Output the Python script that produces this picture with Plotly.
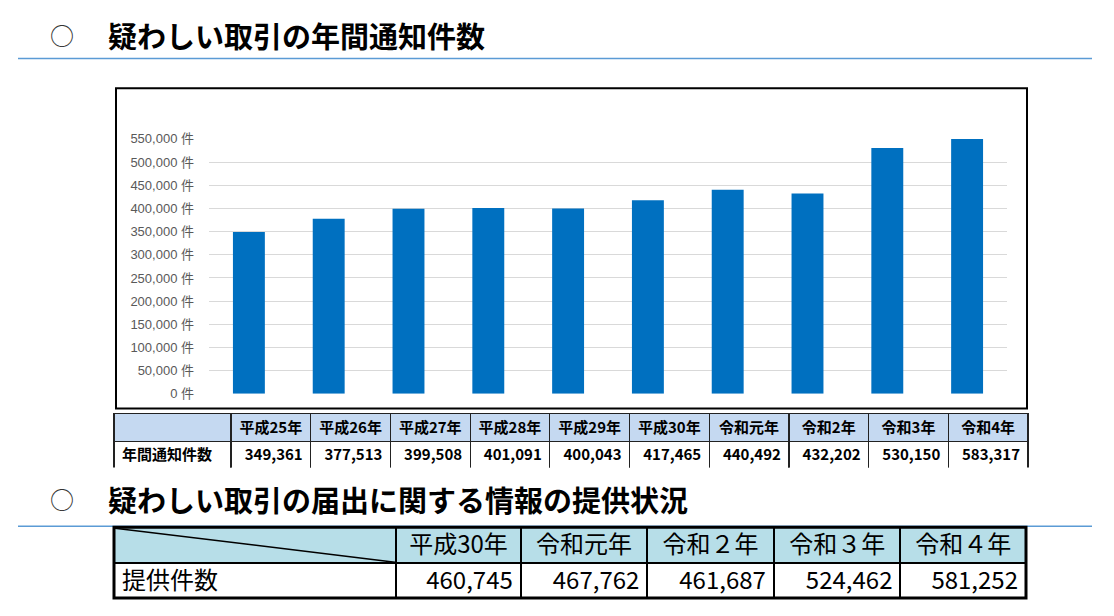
import plotly.graph_objects as go

W, H = 1114, 616

# ---- data ----
years1 = ["平成25年", "平成26年", "平成27年", "平成28年", "平成29年",
          "平成30年", "令和元年", "令和2年", "令和3年", "令和4年"]
notices = [349361, 377513, 399508, 401091, 400043,
           417465, 440492, 432202, 530150, 583317]
row1_label = "年間通知件数"

years2 = ["平成30年", "令和元年", "令和２年", "令和３年", "令和４年"]
provided = [460745, 467762, 461687, 524462, 581252]
row2_label = "提供件数"

title1 = "疑わしい取引の年間通知件数"
title2 = "疑わしい取引の届出に関する情報の提供状況"
bullet = "○"
y_max = 550000
y_step = 50000
unit = " 件"

# vertical correction for how the page is captured
Y_OFF, Y_SCALE = 5.5, 0.978


def fx(px):
    return px / W


def fy(py):
    return 1 - ((py - Y_OFF) / Y_SCALE) / H


def hy(h):
    return h / Y_SCALE


JP = "Noto Sans CJK JP"
fig = go.Figure()

fig.add_trace(go.Bar(
    x=years1, y=notices, width=0.4,
    marker=dict(color="#0070c0", line=dict(width=0)),
    hoverinfo="skip",
))

fig.add_trace(go.Table(
    domain=dict(x=[fx(114), fx(1028)], y=[fy(468), fy(413)]),
    columnwidth=[117] + [79.7] * len(years1),
    header=dict(
        values=[""] + years1,
        fill_color="#c5d9f1",
        line=dict(color="#222222", width=1.2),
        align="center",
        font=dict(family=JP, size=15, color="#000000", weight="bold"),
        height=hy(27),
    ),
    cells=dict(
        values=[[row1_label]] + [["{:,}".format(v)] for v in notices],
        fill_color="#ffffff",
        line=dict(color="#222222", width=1.2),
        align=["left"] + ["right"] * len(notices),
        font=dict(family=JP, size=15, color="#000000", weight="bold"),
        height=hy(27),
    ),
))

fig.add_trace(go.Table(
    domain=dict(x=[fx(114), fx(1026)], y=[fy(599), fy(527)]),
    columnwidth=[281, 124, 126, 126, 126, 125],
    header=dict(
        values=[""] + years2,
        fill_color="#b7dee8",
        line=dict(color="#000000", width=2),
        align="center",
        font=dict(family=JP, size=24, color="#000000"),
        height=hy(35),
    ),
    cells=dict(
        values=[[row2_label]] + [["{:,}".format(v)] for v in provided],
        fill_color="#ffffff",
        line=dict(color="#000000", width=2),
        align=["left"] + ["right"] * len(provided),
        font=dict(family=JP, size=24, color="#000000"),
        height=hy(36),
    ),
))

shapes = [
    # chart frame
    dict(type="rect", xref="paper", yref="paper",
         x0=fx(116), x1=fx(1027), y0=fy(408), y1=fy(87),
         line=dict(color="#000000", width=2)),
    # section rules
    dict(type="line", xref="paper", yref="paper", layer="below",
         x0=fx(18), x1=fx(1092), y0=fy(57), y1=fy(57),
         line=dict(color="#5b9bd5", width=1.5)),
    dict(type="line", xref="paper", yref="paper", layer="below",
         x0=fx(18), x1=fx(1092), y0=fy(526), y1=fy(526),
         line=dict(color="#5b9bd5", width=1.5)),
    # diagonal in table 2 corner cell
    dict(type="line", xref="paper", yref="paper",
         x0=fx(115), x1=fx(395), y0=fy(528), y1=fy(562),
         line=dict(color="#000000", width=1.5)),
    # outer border table 2
    dict(type="rect", xref="paper", yref="paper",
         x0=fx(114), x1=fx(1026), y0=fy(598), y1=fy(527),
         line=dict(color="#000000", width=3)),
]

annotations = [
    dict(text=bullet, x=fx(62), y=fy(33.5), xref="paper", yref="paper",
         xanchor="center", yanchor="middle", showarrow=False,
         font=dict(family=JP, size=24, color="#333333")),
    dict(text="<b>%s</b>" % title1, x=fx(106), y=fy(33.5), xref="paper", yref="paper",
         xanchor="left", yanchor="middle", showarrow=False,
         font=dict(family=JP, size=29, color="#000000")),
    dict(text=bullet, x=fx(62), y=fy(498.5), xref="paper", yref="paper",
         xanchor="center", yanchor="middle", showarrow=False,
         font=dict(family=JP, size=24, color="#333333")),
    dict(text="<b>%s</b>" % title2, x=fx(106), y=fy(498.5), xref="paper", yref="paper",
         xanchor="left", yanchor="middle", showarrow=False,
         font=dict(family=JP, size=29, color="#000000")),
]

fig.update_layout(
    width=W, height=H,
    margin=dict(l=0, r=0, t=0, b=0),
    paper_bgcolor="#ffffff", plot_bgcolor="#ffffff",
    showlegend=False,
    shapes=shapes, annotations=annotations,
    xaxis=dict(domain=[fx(209), fx(1007)], range=[-0.5, len(years1) - 0.5],
               showticklabels=False, showgrid=False, zeroline=False,
               showline=False, ticks="", fixedrange=True),
    yaxis=dict(domain=[fy(393.3), fy(137.7)], range=[0, y_max], dtick=y_step,
               tick0=0, tickformat=",", ticksuffix=unit,
               tickfont=dict(family="Liberation Sans, " + JP, size=13, color="#595959"),
               showgrid=True, gridcolor="#d9d9d9", gridwidth=1,
               zeroline=False, showline=False, ticks="",
               ticklabelstandoff=14, fixedrange=True),
)

fig.write_html("out.html", config={"displayModeBar": False},
               post_script="document.body.style.margin='0';")
